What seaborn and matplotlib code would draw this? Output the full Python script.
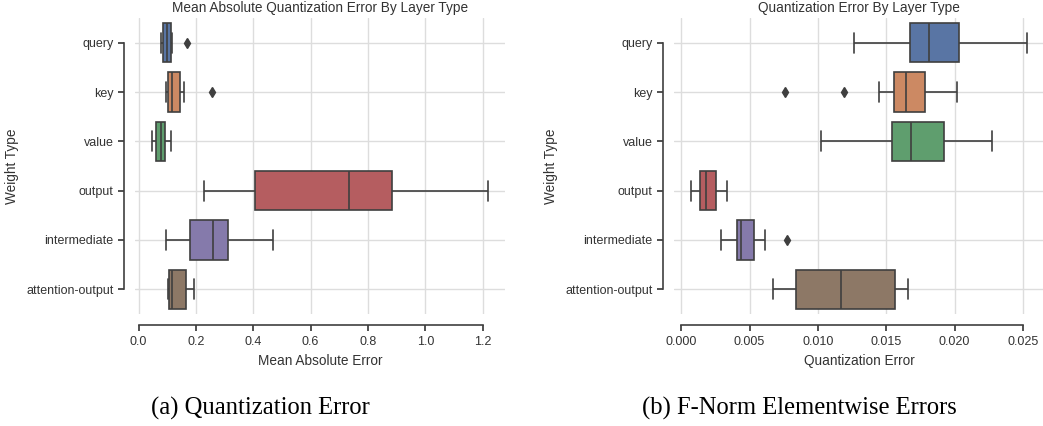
import pandas as pd
import matplotlib
matplotlib.use("Agg")
import matplotlib.pyplot as plt
import seaborn as sns

# --- data (per weight type) ---
weight_types = ["query", "key", "value", "output", "intermediate", "attention-output"]

# (a) mean absolute quantization error
mae_query = [0.077, 0.080, 0.082, 0.084, 0.090, 0.095, 0.098, 0.103, 0.108, 0.112, 0.113, 0.115, 0.168]
mae_key = [0.097, 0.099, 0.100, 0.102, 0.108, 0.114, 0.117, 0.125, 0.135, 0.144, 0.150, 0.157, 0.255]
mae_value = [0.046, 0.052, 0.057, 0.061, 0.066, 0.072, 0.077, 0.081, 0.086, 0.091, 0.098, 0.105, 0.112]
mae_output = [0.228, 0.30, 0.36, 0.405, 0.50, 0.62, 0.735, 0.78, 0.84, 0.882, 0.95, 1.08, 1.219]
mae_intermediate = [0.096, 0.12, 0.15, 0.179, 0.21, 0.24, 0.260, 0.275, 0.29, 0.310, 0.35, 0.41, 0.467]
mae_attn_output = [0.102, 0.104, 0.106, 0.107, 0.111, 0.115, 0.118, 0.128, 0.145, 0.164, 0.172, 0.182, 0.192]

# (b) F-norm elementwise quantization error
fn_query = [0.01266, 0.0145, 0.0158, 0.0167, 0.0173, 0.0177, 0.0181, 0.0188, 0.0196, 0.0203, 0.0215, 0.0235, 0.0253]
fn_key = [0.00762, 0.0119, 0.01444, 0.01555, 0.0158, 0.0162, 0.01646, 0.0169, 0.0174, 0.0178, 0.0186, 0.0195, 0.0202]
fn_value = [0.01022, 0.0125, 0.0142, 0.01543, 0.0159, 0.0164, 0.01682, 0.0175, 0.0185, 0.01923, 0.0205, 0.0218, 0.02271]
fn_output = [0.00071, 0.0009, 0.0012, 0.00141, 0.0015, 0.0017, 0.0018, 0.0020, 0.0023, 0.00258, 0.0028, 0.0031, 0.00336]
fn_intermediate = [0.00292, 0.0033, 0.0037, 0.00407, 0.0042, 0.0043, 0.00436, 0.0046, 0.0050, 0.00535, 0.0057, 0.00613, 0.00776]
fn_attn_output = [0.00674, 0.0074, 0.0080, 0.00842, 0.0092, 0.0105, 0.01171, 0.0128, 0.0142, 0.01565, 0.0160, 0.0163, 0.0166]


def to_long(series, col):
    rows = []
    for name, vals in zip(weight_types, series):
        rows += [(name, v) for v in vals]
    return pd.DataFrame(rows, columns=["Weight Type", col])


df_mae = to_long([mae_query, mae_key, mae_value, mae_output, mae_intermediate, mae_attn_output],
                 "Mean Absolute Error")
df_fn = to_long([fn_query, fn_key, fn_value, fn_output, fn_intermediate, fn_attn_output],
                "Quantization Error")

sns.set_theme(context="paper", style="ticks", palette="deep",
              rc={"axes.grid": True, "grid.color": "#dddddd", "grid.linewidth": 1.0})
plt.rcParams["font.family"] = ["Liberation Sans", "DejaVu Sans"]
plt.rcParams["text.color"] = "#333333"
plt.rcParams["axes.labelcolor"] = "#333333"
plt.rcParams["xtick.color"] = "#333333"
plt.rcParams["ytick.color"] = "#333333"

W, H = 1043, 426
fig = plt.figure(figsize=(W / 100, H / 100), dpi=100)
ax1 = fig.add_axes([135 / W, (H - 314) / H, 370 / W, 296 / H])
ax2 = fig.add_axes([674 / W, (H - 314) / H, 370 / W, 296 / H])

flier = dict(marker="d", markerfacecolor="#3f3f3f", markeredgecolor="#3f3f3f", markersize=5)
line_c = "#3f3f3f"

panels = [
    (ax1, df_mae, "Mean Absolute Error", "Mean Absolute Quantization Error By Layer Type"),
    (ax2, df_fn, "Quantization Error", "Quantization Error By Layer Type"),
]
for ax, df, xcol, title in panels:
    sns.boxplot(data=df, x=xcol, y="Weight Type", hue="Weight Type", order=weight_types,
                palette="deep", legend=False, ax=ax, linecolor=line_c, linewidth=1.2,
                flierprops=flier, saturation=0.75)
    ax.set_title(title, fontsize=9.8, pad=4)
    ax.set_xlabel(xcol, fontsize=9.8, labelpad=4)
    ax.set_ylabel("Weight Type", fontsize=9.8)
    ax.tick_params(labelsize=9.0, length=4, width=1.2)
    ax.tick_params(axis="x", pad=4)
    ax.grid(True, axis="both")
    sns.despine(ax=ax, offset=8, trim=True)
    for s in ("left", "bottom"):
        ax.spines[s].set_color("#3f3f3f")
        ax.spines[s].set_linewidth(1.2)
    ax.yaxis.set_label_coords(-0.313, 0.5)

cap = dict(family=["Liberation Serif", "DejaVu Serif"], fontsize=17.7, color="black",
           ha="center", va="center")
fig.text(260 / W, 1 - 408 / H, "(a) Quantization Error", **cap)
fig.text(799 / W, 1 - 408 / H, "(b) F-Norm Elementwise Errors", **cap)

fig.savefig("out.png", dpi=100)
